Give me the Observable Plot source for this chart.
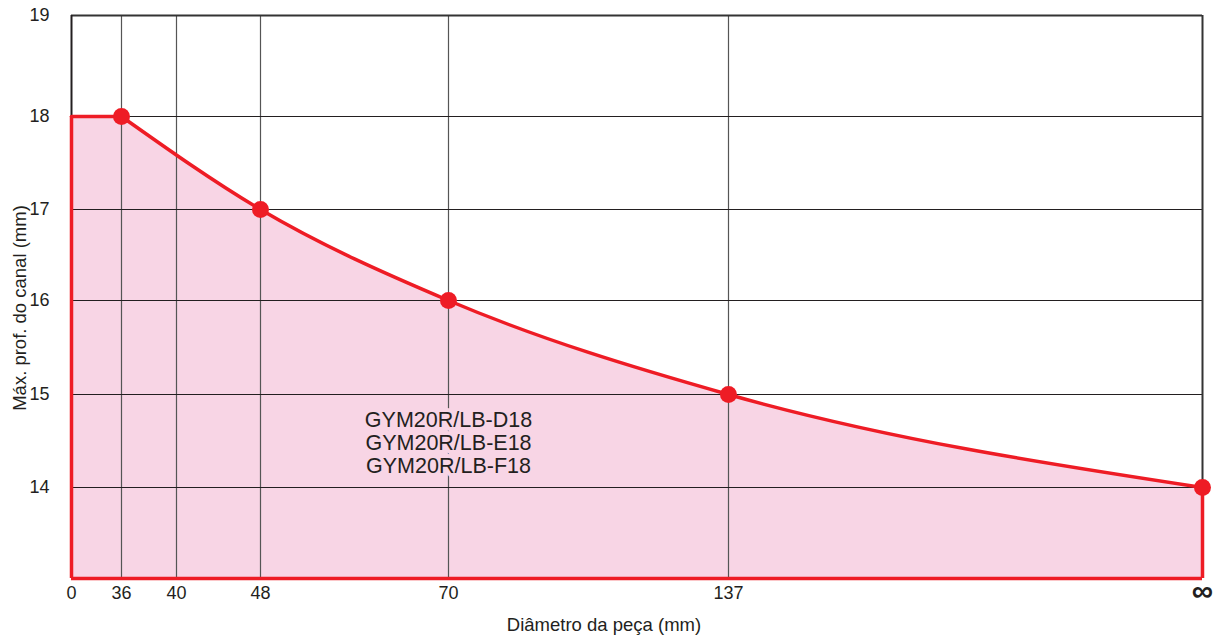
<!DOCTYPE html>
<html>
<head>
<meta charset="utf-8">
<script src="https://cdn.jsdelivr.net/npm/d3@7"></script>
<script src="https://cdn.jsdelivr.net/npm/@observablehq/plot@0.6"></script>
<style>
  html, body { margin: 0; padding: 0; background: #fff; }
  #chart svg { font-family: "Liberation Sans", Arial, sans-serif; }
</style>
</head>
<body>
<div id="chart"></div>
<script>
// ---- data ----
const INF = 250; // stand-in value for "∞" on the x scale
const flatDiameters = [0, 36];
const flatDepths    = [18, 18];
const curveDiameters = [36, 48, 70, 137, INF];
const curveDepths    = [18, 17, 16, 15, 14];
const xTickValues = [0, 36, 40, 48, 70, 137];
const xGridValues = [36, 40, 48, 70, 137];
const yTickValues = [14, 15, 16, 17, 18, 19];
const yGridValues = [14, 15, 16, 17, 18];
const modelLabel = "GYM20R/LB-D18\nGYM20R/LB-E18\nGYM20R/LB-F18";
const xTitle = "Diâmetro da peça (mm)";
const yTitle = "Máx. prof. do canal (mm)";

// ---- scale layout (non-uniform, as in the reference) ----
const xDomain = [0, 36, 40, 48, 70, 137, INF];
const xRange  = [71, 121, 176, 260, 448, 728, 1202];
const yDomain = [13, 14, 15, 16, 17, 18, 19];
const yRange  = [578, 487, 394, 300, 209, 116, 15];

const flatData = flatDiameters.map((d, i) => ({x: d, y: flatDepths[i]}));
const curveData = curveDiameters.map((d, i) => ({x: d, y: curveDepths[i]}));

const RED = "#ee1c25";
const PINK = "#f8d5e5";
const INK = "#231f20";

const chart = Plot.plot({
  width: 1214,
  height: 640,
  marginLeft: 71,
  marginRight: 12,
  marginTop: 15,
  marginBottom: 62,
  style: {fontSize: "18px", color: INK, background: "#fff"},
  x: {type: "linear", domain: xDomain, range: xRange},
  y: {type: "linear", domain: yDomain, range: yRange},
  marks: [
    Plot.areaY(flatData, {x: "x", y1: 13, y2: "y", fill: PINK}),
    Plot.areaY(curveData, {x: "x", y1: 13, y2: "y", fill: PINK, curve: "monotone-x"}),
    Plot.ruleX(xGridValues, {y1: 13, y2: 19, stroke: "#555", strokeWidth: 1.2}),
    Plot.ruleY(yGridValues, {x1: 0, x2: INF, stroke: INK, strokeWidth: 1.2}),
    // frame
    Plot.ruleY([19], {x1: 0, x2: INF, stroke: "#333", strokeWidth: 2}),
    Plot.ruleX([0], {y1: 18, y2: 19, stroke: INK, strokeWidth: 2}),
    Plot.ruleX([INF], {y1: 14, y2: 19, stroke: "#333", strokeWidth: 2}),
    // red outline
    Plot.line(flatData, {x: "x", y: "y", stroke: RED, strokeWidth: 3.5}),
    Plot.line(curveData, {x: "x", y: "y", stroke: RED, strokeWidth: 3.5, curve: "monotone-x"}),
    Plot.ruleX([0], {y1: 13, y2: 18, stroke: RED, strokeWidth: 3.5}),
    Plot.ruleX([INF], {y1: 13, y2: 14, stroke: RED, strokeWidth: 3.5}),
    Plot.ruleY([13], {x1: 0, x2: INF, stroke: RED, strokeWidth: 3.5}),
    Plot.dot(curveData, {x: "x", y: "y", r: 8.5, fill: RED, stroke: "none"}),
    // model label
    Plot.text([modelLabel], {x: 70, y: 14.55, dy: 6, text: d => d, fontSize: 21.5, lineHeight: 1.08,
      fill: INK, stroke: PINK, strokeWidth: 8, textAnchor: "middle"}),
    // axes
    Plot.axisX({ticks: xTickValues, tickSize: 0, tickPadding: 8, fontSize: 18, label: null}),
    Plot.text(["∞"], {x: INF, y: 13, text: d => d, dy: 13, fontSize: 30, fontWeight: "bold", fill: INK}),
    Plot.axisY({ticks: yTickValues, tickSize: 0, tickPadding: 22, fontSize: 18, tickFormat: "d", label: null}),
    Plot.text([xTitle], {frameAnchor: "bottom", dx: -33, dy: 52, text: d => d, fontSize: 18.5, fill: INK, textAnchor: "middle"}),
    Plot.text([yTitle], {frameAnchor: "left", dx: -51, dy: 11, rotate: -90, text: d => d, fontSize: 18.5, fill: INK, textAnchor: "middle"})
  ]
});
document.getElementById("chart").appendChild(chart);
</script>
</body>
</html>
